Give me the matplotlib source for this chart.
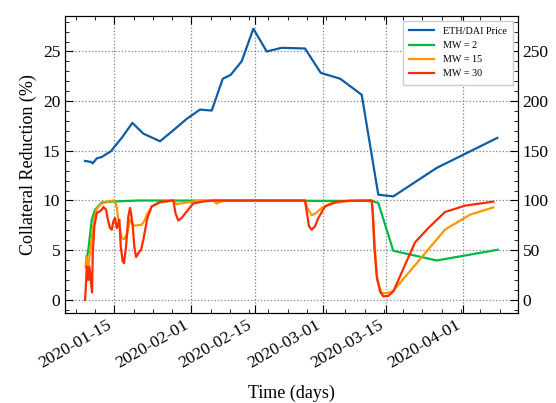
import numpy as np
import pandas as pd
import matplotlib
matplotlib.use("Agg")
import matplotlib.pyplot as plt
import matplotlib.dates as mdates

plt.rcParams["font.family"] = ["Liberation Serif", "DejaVu Serif"]
plt.rcParams["mathtext.fontset"] = "dejavuserif"

# Time axis is stored as days relative to 2020-01-15
ORIGIN = pd.Timestamp("2020-01-15")

price_days = [-6.47, -5.14, -4.77, -3.88, -2.78, -0.79, 1.63, 3.97, 6.40, 10.08,
              13.02, 15.98, 18.91, 21.49, 23.92, 25.68, 28.11, 30.67, 33.63, 36.94,
              42.08, 45.54, 49.87, 54.59, 58.25, 61.56, 71.14, 84.51]
price = [139.8, 138.8, 137.4, 142.4, 143.8, 149.5, 163.0, 178.1, 167.3, 159.6,
         170.7, 182.2, 191.5, 190.5, 222.5, 226.5, 240.2, 272.9, 250.0, 253.7,
         253.0, 228.5, 222.5, 206.4, 105.8, 104.1, 132.8, 163.0]

mw2_days = [-6.18, -5.74, -4.99, -4.26, -2.78, -0.22, 5.5, 56.8, 58.25, 61.56, 71.14, 84.62]
mw2 = [4.0, 5.04, 8.06, 9.07, 9.8, 9.9, 10.0, 9.95, 9.75, 4.94, 3.96, 5.04]

mw15_days = [-6.36, -6.18, -5.74, -5.30, -4.77, -4.04, -3.16, -2.43, -1.39, -0.22,
             0.26, 0.53, 0.88, 1.63, 2.21, 2.87, 3.46, 4.19, 5.01, 6.05,
             6.77, 7.15, 8.25, 10.08, 13.02, 13.77, 15.98, 18.91, 21.84, 22.60,
             23.32, 24.80, 42.08, 42.59, 43.56, 44.51, 45.76, 47.60, 50.53, 54.21,
             56.80, 57.09, 57.53, 58.03, 59.00, 60.10, 61.56, 72.97, 78.49, 83.63]
mw15 = [3.3, 4.4, 3.36, 5.0, 7.06, 9.07, 9.58, 9.75, 9.9, 10.0,
        9.8, 9.35, 8.06, 6.2, 6.12, 6.72, 8.06, 7.46, 7.5, 7.56,
        8.06, 8.57, 9.4, 9.8, 10.0, 9.64, 9.8, 9.98, 10.0, 9.68,
        9.85, 10.0, 10.0, 9.24, 8.5, 8.74, 9.24, 9.68, 9.9, 10.0,
        10.0, 8.5, 5.0, 2.0, 0.67, 0.67, 0.9, 7.06, 8.57, 9.3]

mw30_days = [-6.47, -6.25, -6.09, -5.74, -5.52, -4.92, -4.77, -4.41, -3.88, -3.31,
             -2.78, -2.43, -1.83, -1.46, -0.95, -0.57, -0.22, 0.15, 0.53, 0.75,
             1.10, 1.41, 1.85, 2.14, 2.58, 3.09, 3.46, 3.68, 4.06, 4.41,
             4.79, 5.30, 5.89, 6.40, 7.28, 8.25, 10.08, 13.02, 13.50, 14.12,
             14.87, 15.98, 17.43, 19.64, 22.0, 42.08, 42.96, 43.56, 44.28, 45.01,
             46.49, 49.07, 52.0, 56.80, 57.02, 57.37, 57.90, 58.63, 59.36, 60.46,
             61.56, 66.35, 69.28, 72.97, 77.38, 83.63]
mw30 = [0.0, 1.68, 3.36, 2.0, 3.36, 0.74, 4.7, 7.4, 8.74, 8.9,
        9.07, 9.35, 9.07, 8.13, 7.22, 7.06, 7.9, 8.23, 7.22, 7.46,
        8.06, 5.37, 3.86, 3.7, 5.37, 8.4, 9.24, 8.74, 7.4, 5.37,
        4.3, 4.7, 5.04, 6.05, 8.23, 9.4, 9.85, 10.0, 8.7, 7.98,
        8.25, 8.9, 9.7, 9.9, 10.0, 10.0, 7.4, 7.06, 7.4, 8.23,
        9.4, 9.88, 9.98, 10.0, 8.74, 5.37, 2.35, 0.84, 0.34, 0.40,
        0.84, 5.78, 7.22, 8.84, 9.48, 9.88]

x_days_lim = (-10.88, 89.0)
y_left_lim = (-1.3, 28.6)

colors = ["#0C5DA5", "#00B945", "#FF9500", "#FF2C00"]


def to_dates(days):
    return ORIGIN + pd.to_timedelta(np.asarray(days), unit="D")


fig = plt.figure(figsize=(5.56, 4.03), dpi=100)
ax = fig.add_axes([0.117, 0.224, 0.814, 0.737])
ax2 = ax.twinx()

lw = 1.6
l1, = ax2.plot(to_dates(price_days), price, color=colors[0], lw=lw, label="ETH/DAI Price")
l2, = ax.plot(to_dates(mw2_days), mw2, color=colors[1], lw=lw, label="MW = 2")
l3, = ax.plot(to_dates(mw15_days), mw15, color=colors[2], lw=lw, label="MW = 15")
l4, = ax.plot(to_dates(mw30_days), mw30, color=colors[3], lw=lw, label="MW = 30")

ax.set_xlim(to_dates([x_days_lim[0]])[0], to_dates([x_days_lim[1]])[0])
ax.set_ylim(*y_left_lim)
ax2.set_ylim(y_left_lim[0] * 10, y_left_lim[1] * 10)

ax.xaxis.set_major_locator(mdates.AutoDateLocator())
ax.xaxis.set_major_formatter(mdates.DateFormatter("%Y-%m-%d"))
ax.minorticks_on()
ax2.minorticks_on()

tick_kw = dict(direction="in", labelsize=12.5)
ax.tick_params(which="major", length=6, width=0.8, top=True, right=False, **tick_kw)
ax.tick_params(which="minor", length=3.2, width=0.6, top=True, right=False, direction="in")
ax2.tick_params(which="major", length=6, width=0.8, **tick_kw)
ax2.tick_params(which="minor", length=3.2, width=0.6, direction="in")

ax.grid(True, which="major", linestyle=":", color="grey", linewidth=0.9)

for lab in ax.get_xticklabels():
    lab.set_rotation(30)
    lab.set_ha("right")

ax.set_xlabel("Time (days)", fontsize=13, labelpad=9)
ax.set_ylabel("Collateral Reduction (%)", fontsize=13)

ax2.legend(handles=[l1, l2, l3, l4], loc="upper right", fontsize=7.3,
           frameon=True, fancybox=False, edgecolor="0.8", framealpha=1.0,
           handlelength=2.5, borderpad=0.6, labelspacing=0.5)

fig.savefig("out.png", dpi=100)
